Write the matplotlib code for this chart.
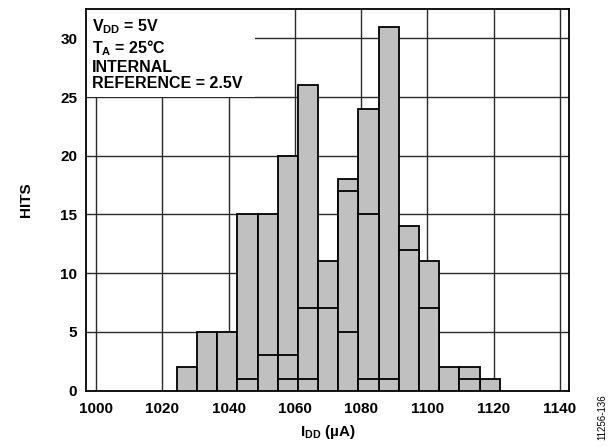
import matplotlib
matplotlib.use("Agg")
import matplotlib.pyplot as plt
from matplotlib.patches import Rectangle
import numpy as np

plt.rcParams['font.family'] = ['Liberation Sans', 'DejaVu Sans']
plt.rcParams['mathtext.default'] = 'regular'

# Bin left edges (µA) and width
bin_start = 1024.3
bin_width = 6.1
# Overlapping histogram levels per bin (tallest, middle, lowest)
hits_top = [2, 5, 5, 15, 15, 20, 26, 11, 18, 24, 31, 14, 11, 2, 2, 1]
hits_mid = [0, 0, 0, 1, 3, 3, 7, 7, 17, 15, 1, 12, 7, 0, 1, 0]
hits_low = [0, 0, 0, 0, 0, 1, 1, 0, 5, 1, 0, 0, 0, 0, 0, 0]

xticks = [1000, 1020, 1040, 1060, 1080, 1100, 1120, 1140]
yticks = [0, 5, 10, 15, 20, 25, 30]

fig = plt.figure(figsize=(6.13, 4.47), dpi=100)
ax = fig.add_axes([0.1398, 0.126, 0.789, 0.853])

lefts = bin_start + bin_width * np.arange(len(hits_top))
for z, series in enumerate([hits_top, hits_mid, hits_low]):
    vals = np.array(series, dtype=float)
    m = vals > 0
    ax.bar(lefts[m], vals[m], width=bin_width, align='edge', color='#c0c0c0',
           edgecolor='black', linewidth=1.3, zorder=3 + z)

ax.set_xlim(996.8, 1142.9)
ax.set_ylim(0, 32.46)
ax.set_xticks(xticks)
ax.set_yticks(yticks)
ax.grid(True, color='#2a2a2a', linewidth=1.0)
ax.set_axisbelow(True)
for s in ax.spines.values():
    s.set_linewidth(1.3)
    s.set_color('black')
ax.tick_params(length=0, labelsize=11)
ax.tick_params(axis='x', pad=8)
ax.tick_params(axis='y', pad=6)
for lab in ax.get_xticklabels() + ax.get_yticklabels():
    lab.set_fontweight('bold')

# white box behind annotation
ax.add_patch(Rectangle((996.8, 25), 1047.9 - 996.8, 32.46 - 25, facecolor='white',
                       edgecolor='none', zorder=1))
ax.text(0.012, 0.978, "V$_{DD}$ = 5V\nT$_{A}$ = 25°C\nINTERNAL\nREFERENCE = 2.5V",
        transform=ax.transAxes, ha='left', va='top', fontsize=11.5,
        fontweight='bold', linespacing=1.13, zorder=2)

ax.set_xlabel("I$_{DD}$ (µA)", fontsize=11, fontweight='bold', labelpad=5)
ax.set_ylabel("HITS", fontsize=11, fontweight='bold', labelpad=20)

fig.text(0.983, 0.067, "11256-136", rotation=90, fontsize=7, ha='center', va='center')

fig.savefig("out.png", dpi=100)
